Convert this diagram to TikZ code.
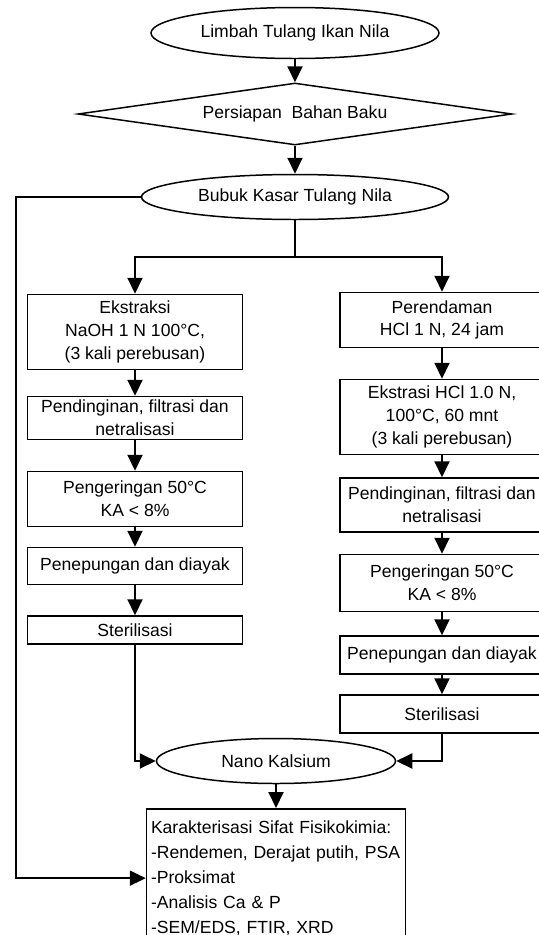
\documentclass[tikz,border=0pt]{standalone}
\usepackage{fontspec}
\setmainfont{Liberation Sans}
\usepackage{tikz}
\usetikzlibrary{shapes}
\usetikzlibrary{arrows.meta}
\usetikzlibrary{calc}
\tikzstyle{ujung}=[ellipse,draw,line width=0.85pt,inner sep=1pt]
\tikzstyle{uji}=[diamond,aspect=7,draw,line width=0.85pt,inner sep=1pt,
minimum width=8.68cm,minimum height=1.24cm]
\tikzstyle{tahap}=[rectangle,draw,line width=0.85pt,inner sep=2pt,align=center]
\tikzstyle{kiri}=[tahap,minimum width=4.3cm]
\tikzstyle{kanan}=[tahap,minimum width=4.08cm]
\tikzstyle{alur}=[-{Triangle[length=3.2mm,width=3mm]},line width=1.1pt]

\begin{document}
\begin{tikzpicture}[font=\fontsize{10}{13}\selectfont]
\useasboundingbox (0,0) rectangle (10.76,-18.7);
\node[ujung,minimum width=5.76cm,minimum height=1.02cm] (a) at (5.9,-0.66) {Limbah Tulang Ikan Nila};
\node[uji] (b) at (5.9,-2.28) {Persiapan\ \ Bahan Baku};
\node[ujung,minimum width=6.14cm,minimum height=0.9cm] (c) at (5.9,-3.94) {Bubuk Kasar Tulang Nila};
\coordinate (fourche) at (5.9,-5.14);
\coordinate (gauche) at (0.32,0);
\node[kiri,minimum height=1.5cm] (d) at (2.7,-6.64) {Ekstraksi\\NaOH 1 N 100°C,\\(3 kali perebusan)};
\node[kiri,minimum height=0.86cm] (e) at (2.7,-8.36) {Pendinginan, filtrasi dan\\netralisasi};
\node[kiri,minimum height=1.1cm] (f) at (2.7,-9.98) {Pengeringan 50°C\\KA < 8\%};
\node[kiri,minimum height=0.74cm] (g) at (2.7,-11.32) {Penepungan dan diayak};
\node[kiri,minimum height=0.56cm] (h) at (2.7,-12.6) {Sterilisasi};
\node[kanan,minimum height=1.1cm] (i) at (8.84,-6.4) {Perendaman\\HCl 1 N, 24 jam};
\node[kanan,minimum height=1.5cm] (j) at (8.84,-8.34) {Ekstrasi HCl 1.0 N,\\100°C, 60 mnt\\(3 kali perebusan)};
\node[kanan,minimum height=1.08cm] (k) at (8.84,-10.1) {Pendinginan, filtrasi dan\\netralisasi};
\node[kanan,minimum height=1.14cm] (l) at (8.84,-11.66) {Pengeringan 50°C\\KA < 8\%};
\node[kanan,minimum height=0.76cm] (m) at (8.84,-13.1) {Penepungan dan diayak};
\node[kanan,minimum height=0.76cm] (n) at (8.84,-14.28) {Sterilisasi};
\node[ujung,minimum width=4.78cm,minimum height=0.9cm] (o) at (5.52,-15.22) {Nano Kalsium};
\node[tahap,anchor=north,align=left,inner xsep=0.9mm,inner ysep=2.4mm,text width=5.0cm,
font=\fontsize{10}{14.2}\selectfont] (p) at (5.52,-16.16)
{Karakterisasi Sifat Fisikokimia:\\-Rendemen, Derajat putih, PSA\\-Proksimat\\-Analisis Ca \& P\\-SEM/EDS, FTIR, XRD};
%Panah
\draw[alur] (a) -- (b);
\draw[alur] (b) -- (c);
\draw[alur] (c) -- (fourche) -| (d);
\draw[alur] (fourche) -| (i);
\draw[alur] (c.west) -| (gauche |- p.west) -- (p.west);
\draw[alur] (d) -- (e);
\draw[alur] (e) -- (f);
\draw[alur] (f) -- (g);
\draw[alur] (g) -- (h);
\draw[alur] (i) -- (j);
\draw[alur] (j) -- (k);
\draw[alur] (k) -- (l);
\draw[alur] (l) -- (m);
\draw[alur] (m) -- (n);
\draw[alur] (h) |- (o);
\draw[alur] (n) |- (o);
\draw[alur] (o) -- (p);
\end{tikzpicture}
\end{document}
